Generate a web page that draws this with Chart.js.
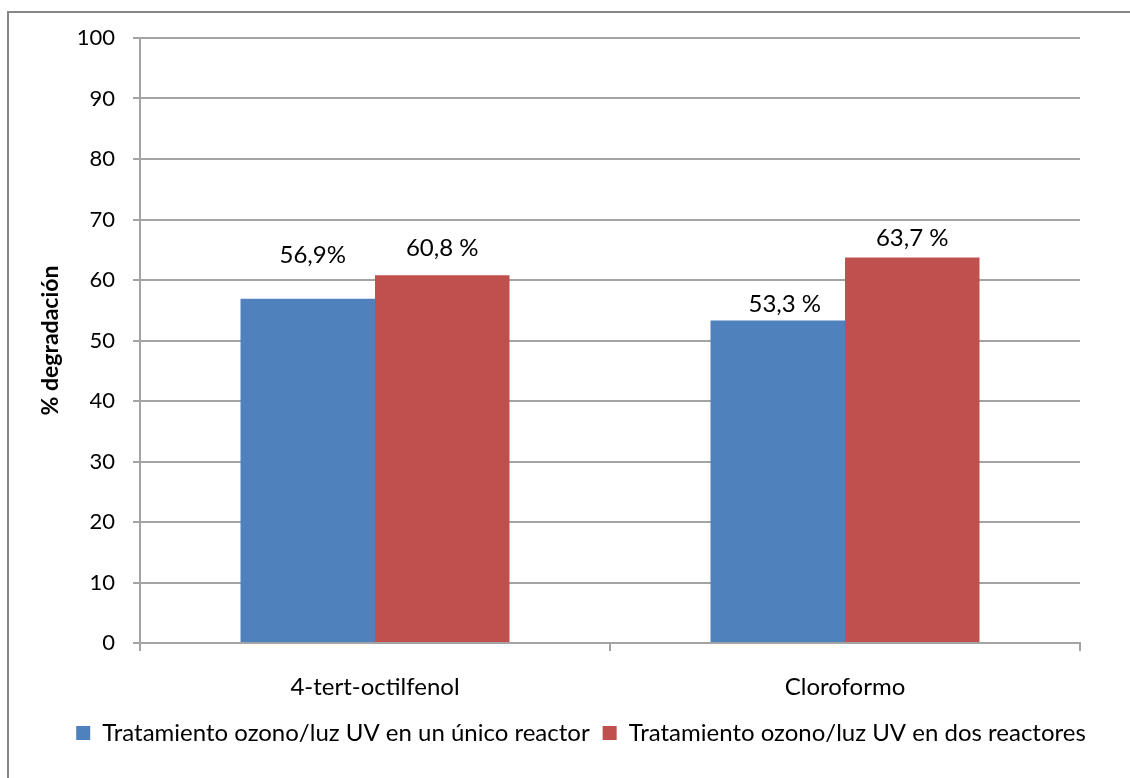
<!DOCTYPE html>
<html lang="es">
<head>
<meta charset="utf-8">
<title>% degradación</title>
<script src="https://cdn.jsdelivr.net/npm/chart.js@4.4.1/dist/chart.umd.min.js"></script>
<style>
  html, body { margin: 0; padding: 0; background: #ffffff; }
  #wrap { width: 1130px; height: 778px; position: relative; }
  canvas { display: block; }
</style>
</head>
<body>
<div id="wrap"><canvas id="chart" width="1130" height="778"></canvas></div>
<script>
// Compounds treated
const categories = ['4-tert-octilfenol', 'Cloroformo'];

// Series names
const seriesNames = [
  'Tratamiento ozono/luz UV en un único reactor',
  'Tratamiento ozono/luz UV en dos reactores'
];

// % degradation per compound
const singleReactor = [56.9, 53.3];
const twoReactors = [60.8, 63.7];

// Value labels written above each bar
const singleReactorLabels = ['56,9%', '53,3 %'];
const twoReactorLabels = ['60,8 %', '63,7 %'];

// Y axis ticks
const yTicks = [0, 10, 20, 30, 40, 50, 60, 70, 80, 90, 100];

const FONT = 'Lato, "Open Sans", "Liberation Sans", sans-serif';
const GRID = '#a3a3a3';
const FRAME = '#878787';

// Label placement tweaks (pixels): lift above bar top, horizontal shift
const labelLift = [[43, 16], [27, 19]];
const labelShift = [[5, 7], [0, 0]];

const frame = {
  id: 'frame',
  beforeDraw(chart) {
    const c = chart.ctx;
    c.save();
    c.fillStyle = '#ffffff';
    c.fillRect(0, 0, chart.width, chart.height);
    c.strokeStyle = FRAME;
    c.lineWidth = 2;
    c.strokeRect(8, 12, chart.width + 10, chart.height + 10);
    c.restore();
  }
};

const valueLabels = {
  id: 'valueLabels',
  afterDatasetsDraw(chart) {
    const c = chart.ctx;
    const texts = [singleReactorLabels, twoReactorLabels];
    c.save();
    c.font = '24px ' + FONT;
    c.fillStyle = '#000000';
    c.textAlign = 'center';
    c.textBaseline = 'middle';
    chart.data.datasets.forEach((ds, di) => {
      chart.getDatasetMeta(di).data.forEach((bar, i) => {
        c.fillText(texts[di][i], bar.x + labelShift[di][i], bar.y - labelLift[di][i]);
      });
    });
    c.restore();
  }
};

// Place the legend row under the whole figure
const legendPlace = {
  id: 'legendPlace',
  afterLayout(chart) {
    const lg = chart.legend;
    if (!lg) return;
    const h = lg.bottom - lg.top;
    lg.left = 32;
    lg.right = 1130;
    lg.top = 733 - lg.options.labels.padding - 12;
    lg.bottom = lg.top + h;
  }
};

new Chart(document.getElementById('chart'), {
  type: 'bar',
  data: {
    labels: categories,
    datasets: [
      {
        label: seriesNames[0],
        data: singleReactor,
        backgroundColor: '#4f81bd',
        borderWidth: 0,
        barPercentage: 1,
        categoryPercentage: 0.5723
      },
      {
        label: seriesNames[1],
        data: twoReactors,
        backgroundColor: '#c0504d',
        borderWidth: 0,
        barPercentage: 1,
        categoryPercentage: 0.5723
      }
    ]
  },
  options: {
    responsive: false,
    animation: false,
    devicePixelRatio: 1,
    layout: { padding: { top: 38, right: 50, bottom: 0, left: 0 } },
    plugins: {
      tooltip: { enabled: false },
      legend: {
        position: 'bottom',
        labels: {
          boxWidth: 14,
          boxHeight: 14,
          padding: 13,
          color: '#000000',
          font: { family: FONT, size: 24 }
        }
      }
    },
    scales: {
      x: {
        grid: {
          offset: true,
          drawOnChartArea: false,
          drawTicks: true,
          tickLength: 8,
          color: GRID,
          lineWidth: 2
        },
        border: { display: true, color: GRID, width: 2 },
        ticks: {
          color: '#000000',
          padding: 22,
          font: { family: FONT, size: 24 }
        },
        afterFit(scale) { scale.height = 778 - 643 - scale.chart.legend.height; }
      },
      y: {
        min: 0,
        max: 100,
        afterBuildTicks(scale) { scale.ticks = yTicks.map(v => ({ value: v })); },
        grid: {
          drawTicks: true,
          tickLength: 7,
          color: GRID,
          lineWidth: 2
        },
        border: { display: true, color: GRID, width: 2 },
        ticks: {
          color: '#000000',
          padding: 18,
          font: { family: FONT, size: 22 }
        },
        title: {
          display: true,
          text: '% degradación',
          color: '#000000',
          font: { family: FONT, size: 23, weight: 'bold' },
          padding: { top: 37, bottom: 0 }
        },
        afterFit(scale) { scale.width = 140; }
      }
    }
  },
  plugins: [frame, valueLabels, legendPlace]
});
</script>
</body>
</html>
